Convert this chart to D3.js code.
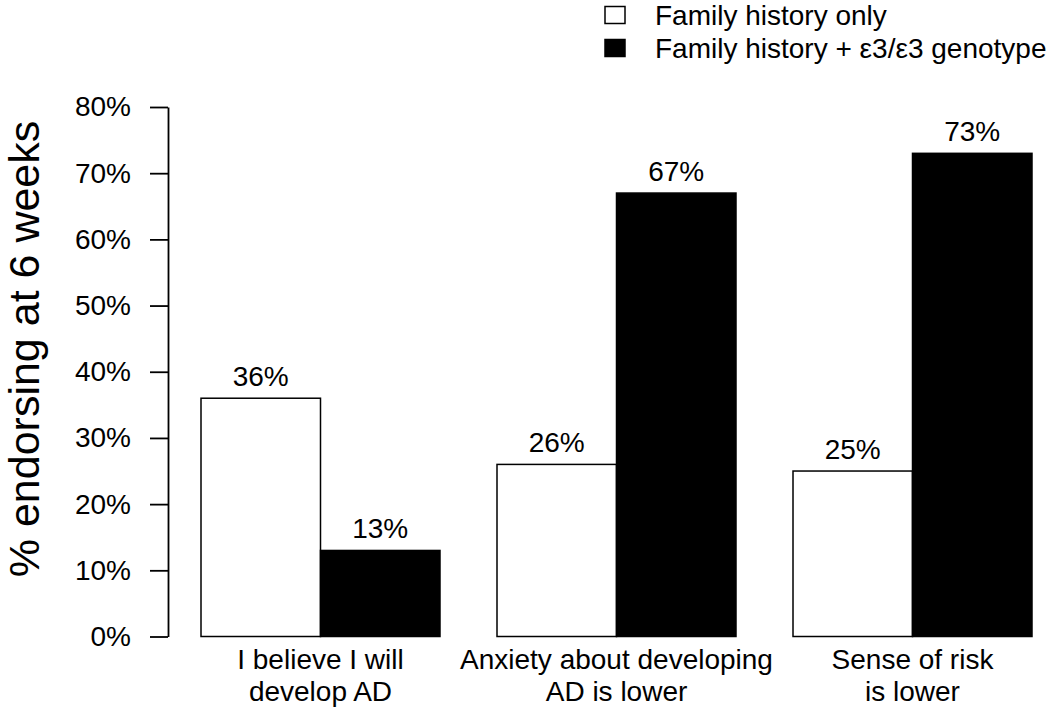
<!DOCTYPE html>
<html>
<head>
<meta charset="utf-8">
<script src="https://cdn.jsdelivr.net/npm/d3@7"></script>
<style>
  html, body { margin: 0; padding: 0; background: #fff; }
  svg { display: block; font-family: "Liberation Sans", Arial, Helvetica, sans-serif; }
</style>
</head>
<body>
<svg id="chart" width="1050" height="710"></svg>
<script>
// ---- data ----
const categories = ["I believe I will develop AD", "Anxiety about developing AD is lower", "Sense of risk is lower"];
const categoryLines = [["I believe I will", "develop AD"], ["Anxiety about developing", "AD is lower"], ["Sense of risk", "is lower"]];
const seriesNames = ["Family history only", "Family history + \u03b53/\u03b53 genotype"];
const familyOnly = [36, 26, 25];
const familyGenotype = [13, 67, 73];
const yTicks = [0, 10, 20, 30, 40, 50, 60, 70, 80];
const yTitle = "% endorsing at 6 weeks";
const seriesFill = ["#ffffff", "#000000"];

// ---- layout ----
const svg = d3.select("#chart");
const fs = 28;

const y = d3.scaleLinear().domain([0, 80]).range([636.5, 107]);
const x = d3.scaleBand().domain(categories).range([201, 1032]).paddingInner(0.1926).paddingOuter(0);
const xs = d3.scaleBand().domain(seriesNames).range([0, x.bandwidth()]).padding(0);

const seriesValues = [familyOnly, familyGenotype];

// bars
const groups = svg.append("g").selectAll("g")
  .data(categories)
  .join("g")
  .attr("transform", d => `translate(${x(d)},0)`);

groups.each(function(cat, ci) {
  const g = d3.select(this);
  seriesNames.forEach((s, si) => {
    const v = seriesValues[si][ci];
    g.append("rect")
      .attr("x", xs(s))
      .attr("y", y(v))
      .attr("width", xs.bandwidth())
      .attr("height", y(0) - y(v))
      .attr("fill", seriesFill[si])
      .attr("stroke", "#000")
      .attr("stroke-width", 1.5);
    g.append("text")
      .attr("x", xs(s) + xs.bandwidth() / 2)
      .attr("y", y(v) - 12)
      .attr("text-anchor", "middle")
      .attr("font-size", fs)
      .attr("fill", "#000")
      .text(v + "%");
  });
});

// y axis
const yAxis = d3.axisLeft(y)
  .tickValues(yTicks)
  .tickFormat(d => d + "%")
  .tickSize(18)
  .tickSizeOuter(0)
  .tickPadding(19);

const ag = svg.append("g").attr("transform", "translate(168,0)").call(yAxis);
ag.select(".domain").attr("stroke", "#000").attr("stroke-width", 1.8);
ag.selectAll(".tick line").attr("stroke", "#000").attr("stroke-width", 1.8);
ag.selectAll(".tick text")
  .attr("font-size", fs)
  .attr("font-family", "Liberation Sans, Arial, sans-serif")
  .attr("fill", "#000");

// y title
svg.append("text")
  .attr("transform", "translate(39,349) rotate(-90)")
  .attr("text-anchor", "middle")
  .attr("font-size", 43)
  .attr("fill", "#000")
  .text(yTitle);

// category labels
categories.forEach((c, ci) => {
  const cx = x(c) + x.bandwidth() / 2;
  categoryLines[ci].forEach((line, li) => {
    svg.append("text")
      .attr("x", cx)
      .attr("y", 669 + li * 32)
      .attr("text-anchor", "middle")
      .attr("font-size", fs)
      .attr("fill", "#000")
      .text(line);
  });
});

// legend
const legend = svg.append("g");
seriesNames.forEach((s, i) => {
  const cy = 15 + i * 33;
  legend.append("rect")
    .attr("x", 605).attr("y", cy - 8.5)
    .attr("width", 20).attr("height", 17)
    .attr("fill", seriesFill[i])
    .attr("stroke", "#000").attr("stroke-width", 1.5);
  legend.append("text")
    .attr("x", 655).attr("y", cy + 10)
    .attr("font-size", fs)
    .attr("fill", "#000")
    .text(s);
});
</script>
</body>
</html>
